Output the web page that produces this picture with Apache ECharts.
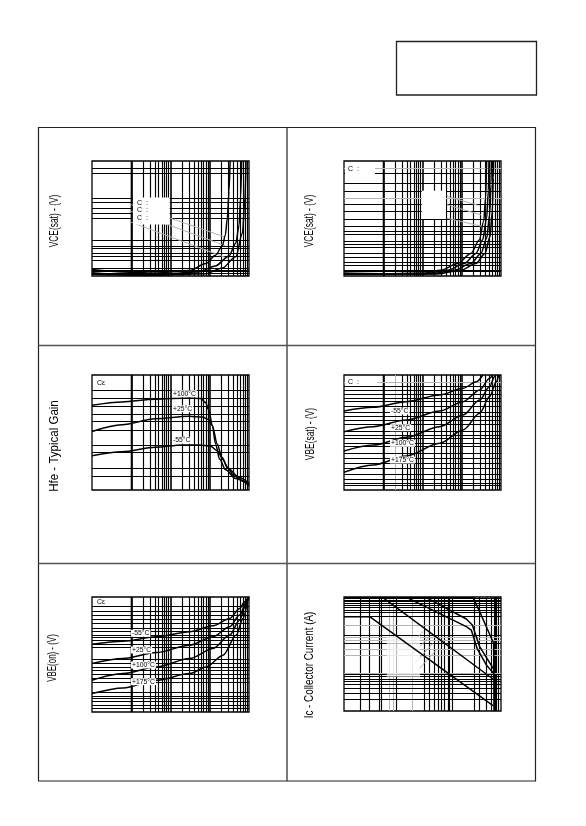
<!DOCTYPE html>
<html><head><meta charset="utf-8">
<script src="https://cdn.jsdelivr.net/npm/echarts@6/dist/echarts.min.js"></script>
<style>html,body{margin:0;padding:0;background:#fff}#c{width:586px;height:826px}</style>
</head><body><div id="c"></div>
<script>
// ---------------- DATA ----------------
// Panel 1: VCE(sat) vs IC (A), three IC/IB curves
const p1Curve1 = [[0.001,0.056],[0.006,0.035],[0.04,0.026],[0.3,0.047],[0.8,0.108],[1.4,0.181],[2.1,0.263],[2.5,0.357],[2.8,0.503],[3.1,0.737],[3.3,1.0]];
const p1Curve2 = [[0.001,0.029],[0.006,0.015],[0.04,0.012],[0.53,0.035],[1.4,0.088],[3.1,0.175],[4.6,0.284],[5.6,0.444],[6.1,0.678],[6.5,1.0]];
const p1Curve3 = [[0.001,0.015],[0.04,0.006],[0.78,0.020],[2.1,0.070],[4.6,0.167],[6.8,0.371],[7.9,0.678],[8.4,1.0]];
const p1GridY = [0.02,0.035,0.05,0.07,0.14,0.17,0.2,0.24,0.26,0.31,0.5,0.55,0.59,0.64,0.68,0.89,0.94];
const p1GrayX = [0.002,0.003];
const p1Leaders = [[[0.01,0.62],[2.3,0.342]],[[0.01,0.561],[2.54,0.263]],[[0.01,0.468],[2.96,0.152]]];

// Panel 2: VCE(sat) vs IC, four curves
const p2CurveA = [[0.001,0.026],[0.0155,0.020],[0.11,0.026],[0.294,0.05],[0.783,0.108],[1.71,0.196],[2.8,0.313],[3.61,0.474],[4.06,0.678],[4.31,1.0]];
const p2CurveB = [[0.001,0.020],[0.11,0.020],[0.435,0.05],[1.16,0.108],[2.3,0.196],[3.4,0.313],[4.31,0.503],[4.75,0.737],[4.94,1.0]];
const p2CurveC = [[0.001,0.018],[0.163,0.020],[0.644,0.05],[1.71,0.108],[3.08,0.196],[4.31,0.327],[5.14,0.532],[5.56,0.795],[5.67,1.0]];
const p2CurveD = [[0.001,0.015],[0.242,0.018],[0.952,0.05],[2.3,0.108],[3.9,0.196],[5.24,0.342],[6.01,0.561],[6.37,0.854],[6.5,1.0]];
const p2GridY = [0.035,0.05,0.094,0.123,0.158,0.196,0.246,0.284,0.304,0.357,0.392,0.43,0.494,0.561,0.62,0.743,0.81,0.889];
const p2GrayY = [0.684,0.942];
const p2GrayX = [0.002,0.003,0.004,0.005];
const p2Leaders = [[[0.418,0.693],[2.64,0.614]],[[0.418,0.62],[3.08,0.532]],[[0.418,0.503],[3.4,0.43]]];

// Panel 3: Hfe typical gain vs IC
const p3Hfe100 = [[0.001,147.4],[0.0058,153.2],[0.041,157.9],[0.294,160.2],[0.583,159.1],[0.783,152.0],[0.952,138.6],[1.16,112.3],[1.41,80.1],[1.78,53.8],[2.54,35.1],[4.57,19.9],[10,9.9]];
const p3Hfe25 = [[0.001,101.8],[0.0058,113.5],[0.041,124.0],[0.294,128.1],[0.644,126.9],[0.916,122.8],[1.16,112.3],[1.55,80.1],[2.08,53.8],[3.08,36.3],[5.56,21.6],[10,11.7]];
const p3HfeM55 = [[0.001,59.6],[0.0058,66.7],[0.041,74.3],[0.199,78.4],[0.529,78.4],[1.05,76.0],[1.55,68.4],[2.08,56.7],[2.8,39.2],[4.14,24.6],[6.76,15.8],[10,7.0]];
const p3GridY = [24,38,65,78,104,119,132,145,159,173];
const p3GrayX = [0.002,0.003,0.004,0.005];
const p3Labels = ['+100°C','+25°C','-55°C'];

// Panel 4: VBE(sat) vs IC
const p4VbeM55 = [[0.001,0.687],[0.0055,0.719],[0.0387,0.768],[0.274,0.826],[1.08,0.884],[2.35,0.942],[3.48,1.0]];
const p4Vbe25 = [[0.001,0.507],[0.0055,0.551],[0.0387,0.609],[0.274,0.687],[1.08,0.768],[2.86,0.870],[5.14,0.971],[6.02,1.0]];
const p4Vbe100 = [[0.001,0.339],[0.0055,0.391],[0.0387,0.458],[0.274,0.551],[1.08,0.652],[2.86,0.783],[5.14,0.899],[6.9,0.986],[7.31,1.0]];
const p4Vbe175 = [[0.001,0.154],[0.0055,0.217],[0.0387,0.296],[0.274,0.406],[1.08,0.522],[2.86,0.667],[5.14,0.812],[7.6,0.942],[8.73,1.0]];
const p4GridY = [0.035,0.064,0.093,0.139,0.188,0.232,0.284,0.319,0.377,0.412,0.449,0.478,0.507,0.574,0.609,0.638,0.681,0.733,0.768,0.803,0.835,0.870,0.904];
const p4GrayY = [0.942];
const p4GrayX = [0.002,0.003,0.004,0.005,0.02];
const p4Labels = ['-55°C','+25°C','+100°C','+175°C'];

// Panel 5: VBE(on) vs IC
const p5VbeM55 = [[0.001,0.590],[0.0062,0.616],[0.0436,0.654],[0.308,0.698],[1.21,0.750],[3.22,0.814],[5.78,0.901],[7.76,0.959],[9.44,1.0]];
const p5Vbe25 = [[0.001,0.422],[0.0062,0.465],[0.0436,0.517],[0.308,0.581],[1.21,0.654],[3.22,0.741],[5.78,0.843],[8.55,0.959],[9.81,1.0]];
const p5Vbe100 = [[0.001,0.276],[0.0062,0.334],[0.0436,0.392],[0.308,0.465],[1.21,0.552],[3.22,0.669],[5.78,0.799],[8.22,0.930],[9.81,1.0]];
const p5Vbe175 = [[0.001,0.160],[0.0062,0.209],[0.0436,0.276],[0.308,0.334],[0.818,0.392],[2.18,0.494],[4.75,0.669],[7.03,0.814],[9.44,0.988]];
const p5GridY = [0.029,0.058,0.087,0.116,0.145,0.174,0.256,0.291,0.326,0.363,0.392,0.422,0.459,0.558,0.587,0.616,0.645,0.669,0.698,0.735,0.770,0.805,0.843,0.881,0.922];
const p5GrayX = [0.002,0.003];
const p5Labels = ['-55°C','+25°C','+100°C','+175°C'];

// Panel 6: IC collector current vs VCE (safe operating area, log-log)
const p6Curve1 = [[0.1,3.04],[0.451,3.04],[625,0.0138]];
const p6Curve2 = [[0.1,9.61],[0.986,9.61],[625,0.0695]];
const p6Curve3 = [[0.1,9.61],[4.03,9.61],[131,1.66],[175,1.35],[245,0.446],[423,0.163],[650,0.098]];
const p6Curve4 = [[0.1,9.61],[12.5,9.61],[131,2.64],[186,1.83],[286,0.493],[650,0.127]];
const p6Curve5 = [[0.1,9.61],[194,9.61],[286,4.11],[440,1.50],[650,0.604],[664,0.01]];
const p6GridX = [0.261,0.451,0.78,0.893,2.15,11.4,15.2,19.6,25.8,30.2,36.7,44.6,49.2,57.5,213,286,423,567,664,718,760,839];
const p6GrayX = [1.46,1.77,5.51];
const p6GridY = [9.04,8.34,7.69,6.95,6.16,5.35,4.55,3.95,3.03,0.959,0.604,0.0851,0.0769,0.0695,0.0628,0.0535,0.0437,0.0343,0.0253,0.0187];
const p6GrayY = [1.76,0.868,0.71,0.428,0.286,0.104];
const p6Leaders = [[[3.51,0.403],[10.3,1.22]],[[4.71,0.269],[15.2,0.904]],[[6.31,0.18],[18.5,0.604]],[[7.68,0.12],[22.5,0.403]]];

const titles = ['VCE(sat) - (V)','VCE(sat) - (V)','Hfe - Typical Gain','VBE(sat) - (V)','VBE(on) - (V)','Ic - Collector Current (A)'];
const mantissas = [1,2,3,4,5,6,7,8,9];

// ---------------- BUILD ----------------
const GRAY = '#b4b4b4';
const FONT = '"Liberation Sans", Arial, sans-serif';

function logGridValues(min, max) {
  const out = [];
  const e0 = Math.round(Math.log10(min)), e1 = Math.round(Math.log10(max));
  for (let e = e0; e < e1; e++) {
    for (const m of mantissas) {
      const v = Number((m * Math.pow(10, e)).toPrecision(6));
      if (v > min * 1.0001) out.push({v: v, decade: m === 1});
    }
  }
  return out;
}
const near = (a, b) => Math.abs(a - b) <= Math.abs(b) * 1e-4;

const panels = [
  {box:[92,161,157,115], xMin:0.001, xMax:10, yType:'value', yMin:0, yMax:1, curves:[p1Curve1,p1Curve2,p1Curve3], grayX:p1GrayX, gridY:p1GridY, grayY:[], leaders:p1Leaders, title:titles[0], tpos:[55,221], tscale:0.7},
  {box:[344,161,157,115], xMin:0.001, xMax:10, yType:'value', yMin:0, yMax:1, curves:[p2CurveA,p2CurveB,p2CurveC,p2CurveD], grayX:p2GrayX, gridY:p2GridY, grayY:p2GrayY, leaders:p2Leaders, title:titles[1], tpos:[310,221], tscale:0.7},
  {box:[92,375,157,115], xMin:0.001, xMax:10, yType:'value', yMin:0, yMax:200, curves:[p3Hfe100,p3Hfe25,p3HfeM55], grayX:p3GrayX, gridY:p3GridY, grayY:[], leaders:[], title:titles[2], tpos:[55,446], tscale:0.96},
  {box:[344,375,157,115], xMin:0.001, xMax:10, yType:'value', yMin:0, yMax:1, curves:[p4VbeM55,p4Vbe25,p4Vbe100,p4Vbe175], grayX:p4GrayX, gridY:p4GridY, grayY:p4GrayY, leaders:[], title:titles[3], tpos:[311,434], tscale:0.7},
  {box:[92,597,157,115], xMin:0.001, xMax:10, yType:'value', yMin:0, yMax:1, curves:[p5VbeM55,p5Vbe25,p5Vbe100,p5Vbe175], grayX:p5GrayX, gridY:p5GridY, grayY:[], leaders:[], title:titles[4], tpos:[53,658], tscale:0.66},
  {box:[344,597,157,114], xMin:0.1, xMax:1000, yType:'log', yMin:0.01, yMax:10, curves:[p6Curve1,p6Curve2,p6Curve3,p6Curve4,p6Curve5], explicitX:p6GridX, grayX:p6GrayX, gridY:p6GridY, grayY:p6GrayY, leaders:p6Leaders, title:titles[5], tpos:[310,665], tscale:0.82, straight:true}
];

const grids = [], xAxes = [], yAxes = [], series = [];
panels.forEach((p, i) => {
  grids.push({left:p.box[0], top:p.box[1], width:p.box[2], height:p.box[3], show:true, borderColor:'#000', borderWidth:1.3, backgroundColor:'transparent'});
  const hidden = {axisLine:{show:false}, axisTick:{show:false}, axisLabel:{show:false}, splitLine:{show:false}, minorTick:{show:false}, minorSplitLine:{show:false}};
  xAxes.push(Object.assign({type:'log', logBase:10, gridIndex:i, min:p.xMin, max:p.xMax}, hidden));
  yAxes.push(Object.assign({type:p.yType, gridIndex:i, min:p.yMin, max:p.yMax}, p.yType === 'log' ? {logBase:10} : {}, hidden));

  const items = [];
  if (p.explicitX) {
    p.explicitX.forEach(v => items.push({xAxis:v, lineStyle:{color:'#000', width:1.15}}));
    p.grayX.forEach(v => items.push({xAxis:v, lineStyle:{color:GRAY, width:1}}));
  } else {
    logGridValues(p.xMin, p.xMax).forEach(g => {
      const gray = p.grayX.some(x => near(g.v, x));
      items.push({xAxis:g.v, lineStyle:{color: gray ? GRAY : '#000', width: g.decade ? 1.6 : (gray ? 1 : 1.15)}});
    });
  }
  p.gridY.forEach(v => items.push({yAxis:v, lineStyle:{color:'#000', width:1.15}}));
  p.grayY.forEach(v => items.push({yAxis:v, lineStyle:{color:GRAY, width:1}}));

  series.push({type:'line', xAxisIndex:i, yAxisIndex:i, data:[], silent:true, z:1,
    markLine:{silent:true, z:1, animation:false, symbol:['none','none'], label:{show:false}, emphasis:{disabled:true},
      lineStyle:{type:'solid'}, data:items}});

  if (p.leaders.length) {
    series.push({type:'line', xAxisIndex:i, yAxisIndex:i, data:[], silent:true, z:5,
      markLine:{silent:true, z:5, animation:false, symbol:['none','none'], label:{show:false}, emphasis:{disabled:true},
        lineStyle:{type:'solid', color:'#b0b0b0', width:1},
        data:p.leaders.map(l => [{coord:l[0]},{coord:l[1]}])}});
  }

  p.curves.forEach(c => series.push({type:'line', xAxisIndex:i, yAxisIndex:i, data:c, showSymbol:false, symbol:'none',
    smooth: p.straight ? false : 0.3, smoothMonotone: 'x', silent:true, z:7, animation:false,
    lineStyle:{color:'#000', width:1.5}}));
});

// decorations
const G = [];
function line(x1,y1,x2,y2,stroke,w){ G.push({type:'line', z:0, silent:true, shape:{x1,y1,x2,y2}, style:{stroke:stroke, lineWidth:w}}); }
function rect(x,y,w,h,fill,op){ G.push({type:'rect', z:6, silent:true, shape:{x,y,width:w,height:h}, style:{fill:fill, opacity: op == null ? 1 : op}}); }
function text(t,x,y,font,opts){ G.push(Object.assign({type:'text', z:10, silent:true, x:x, y:y,
  style:Object.assign({text:t, font:font, fill:'#000', textAlign:'left', align:'left', textVerticalAlign:'middle', verticalAlign:'middle'}, opts && opts.style)}, opts && opts.el)); }

// page frame
G.push({type:'rect', z:0, silent:true, shape:{x:38.5, y:127.5, width:497, height:653.5}, style:{fill:'none', stroke:'#222', lineWidth:1.2}});
line(287, 127.5, 287, 781, '#222', 1.2);
line(38.5, 345.5, 535.5, 345.5, '#555', 1.3);
line(38.5, 563.5, 535.5, 563.5, '#555', 1.3);
G.push({type:'rect', z:0, silent:true, shape:{x:396.5, y:41.5, width:140, height:53.5}, style:{fill:'none', stroke:'#222', lineWidth:1.3}});

// label boxes hiding grid
rect(133, 197.5, 36.7, 27, '#fff');
rect(345, 162, 30, 12, '#fff');
rect(421.7, 190.7, 24.3, 28.3, '#fff');
rect(93, 376, 28.5, 12.7, '#fff');
rect(345, 376, 32, 10, '#fff');
rect(93, 598, 28.7, 8, '#fff');
rect(386.7, 636.7, 33.3, 40, '#fff', 0.72);

// small legend marks
const small = '7px ' + FONT;
text('C  :', 137, 203, small); text('C  :', 137, 210.5, small); text('C  :', 137, 218, small);
text('C  :', 348, 168.7, small);
text('C\u03b5', 97, 382.7, small);
text('C  :', 348, 381.7, small);
text('C\u03b5', 97, 602.3, small);

// temperature labels
const tf = '6.8px ' + FONT;
const lab = {backgroundColor:'#fff', padding:[0,1,0,1]};
[393.7, 408.7, 440.3].forEach((y, k) => text(p3Labels[k], 172, y, tf, {style:lab}));
[411, 427.7, 443.3, 460].forEach((y, k) => text(p4Labels[k], 390, y, tf, {style:lab}));
[633.3, 650, 665, 681.7].forEach((y, k) => text(p5Labels[k], 131, y, tf, {style:lab}));

// axis titles (rotated)
panels.forEach(p => {
  text(p.title, p.tpos[0], p.tpos[1], '12px ' + FONT,
    {el:{rotation:Math.PI/2, scaleX:p.tscale}, style:{textAlign:'center', align:'center'}});
});

const chart = echarts.init(document.getElementById('c'), null, {renderer:'canvas'});
chart.setOption({
  animation:false,
  backgroundColor:'#fff',
  grid:grids, xAxis:xAxes, yAxis:yAxes, series:series,
  graphic:{elements:G}
});
</script></body></html>
